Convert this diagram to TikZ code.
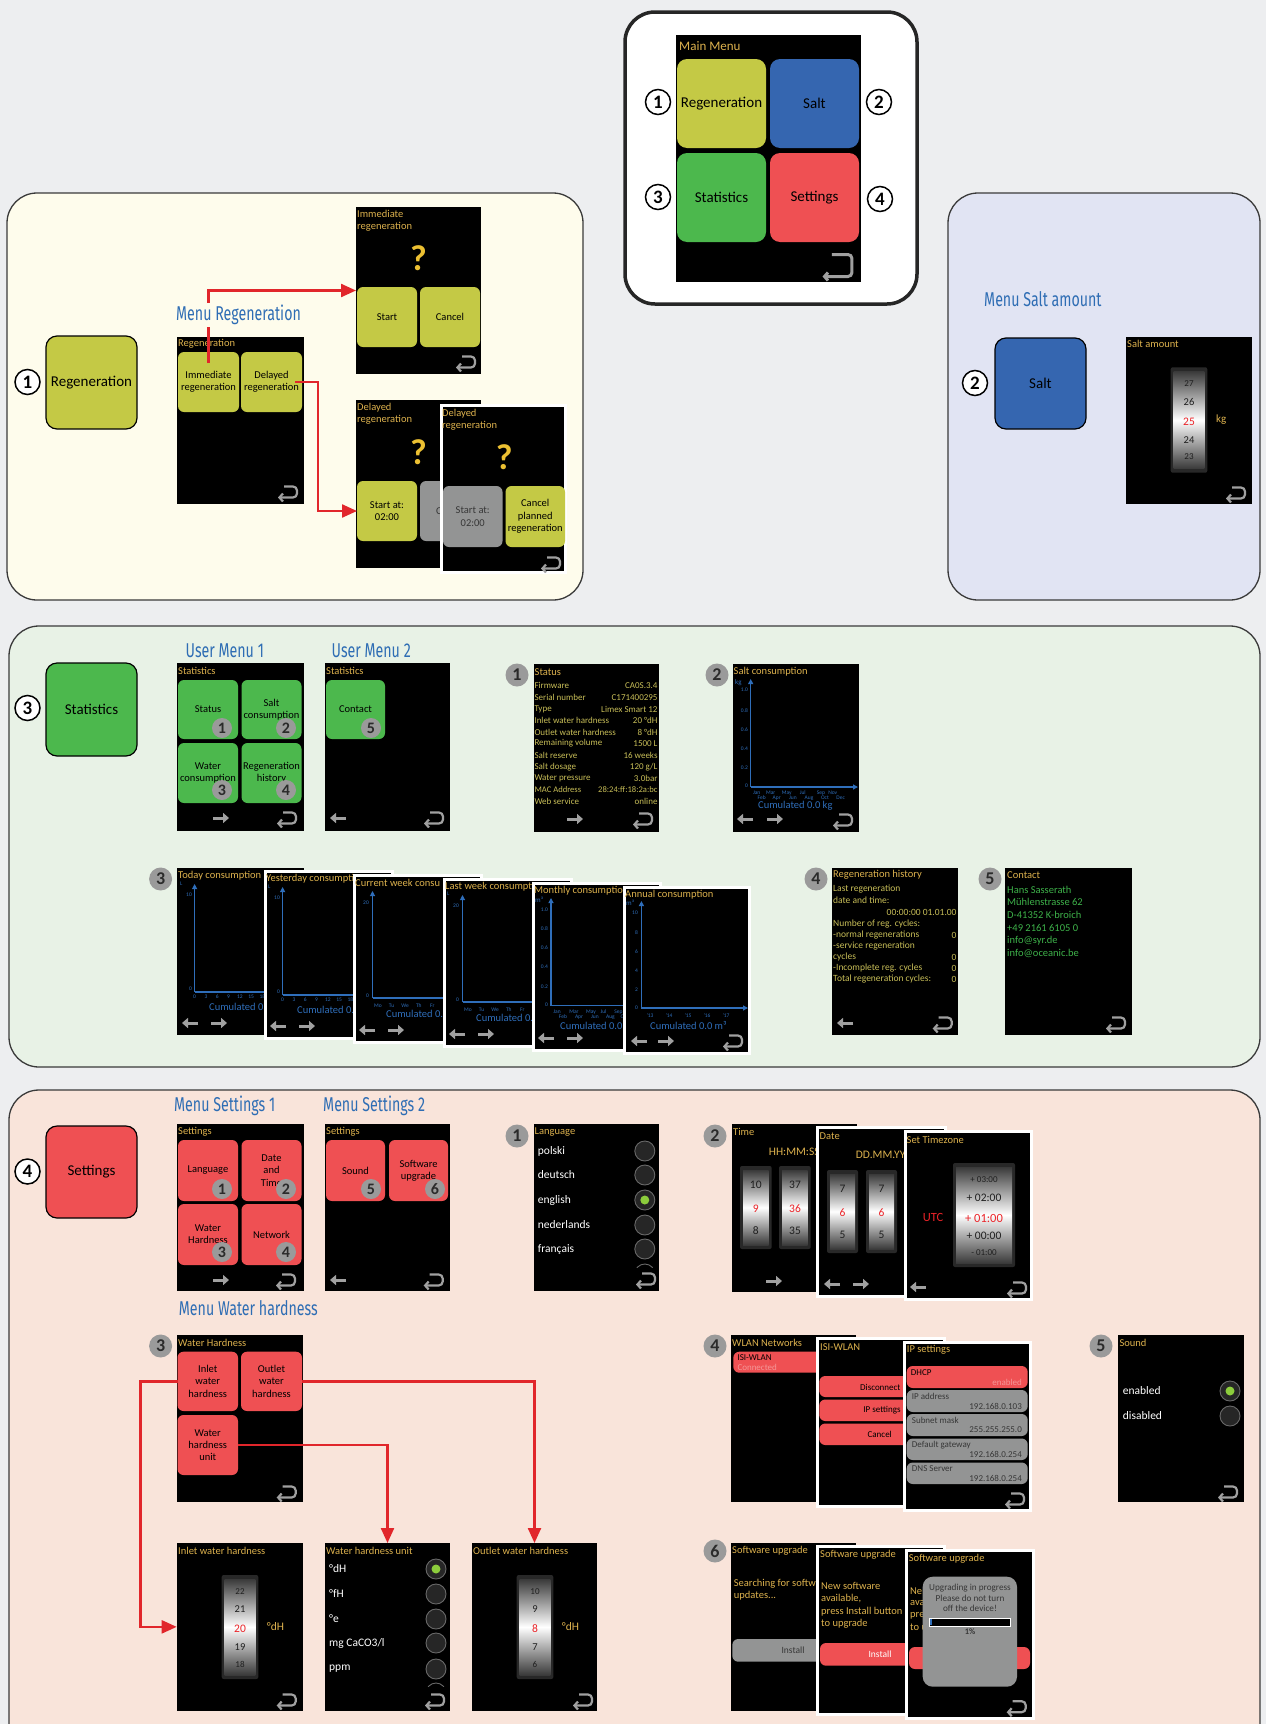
\documentclass[tikz,border=0pt]{standalone}
\usepackage{fontspec}
\setmainfont{Carlito}
\newfontfamily\mfont[FakeStretch=0.71]{Fira Sans}
\usetikzlibrary{arrows.meta,fit,calc}
\definecolor{bgc}{RGB}{237,238,240}
\definecolor{regp}{RGB}{254,252,236}
\definecolor{saltp}{RGB}{225,228,243}
\definecolor{statp}{RGB}{232,242,230}
\definecolor{setp}{RGB}{249,228,218}
\definecolor{regc}{RGB}{196,201,69}
\definecolor{saltc}{RGB}{53,102,176}
\definecolor{statc}{RGB}{76,184,77}
\definecolor{setc}{RGB}{239,80,83}
\definecolor{greyb}{RGB}{147,148,148}
\definecolor{ttlc}{RGB}{221,178,78}
\definecolor{txtc}{RGB}{200,190,88}
\definecolor{menub}{RGB}{46,109,180}
\definecolor{chartb}{RGB}{47,110,186}
\definecolor{contg}{RGB}{62,178,74}
\definecolor{arrred}{RGB}{225,38,43}
\definecolor{numg}{RGB}{154,154,154}
\definecolor{numt}{RGB}{43,43,43}
\definecolor{iconc}{RGB}{160,160,160}
\definecolor{panl}{RGB}{58,58,58}
\definecolor{rollfr}{RGB}{40,40,40}
\definecolor{rolld}{RGB}{58,58,58}
\definecolor{radf}{RGB}{38,38,38}
\definecolor{radb}{RGB}{105,105,105}
\definecolor{gdot}{RGB}{140,205,60}
\definecolor{qmc}{RGB}{236,192,50}
\definecolor{pinkt}{RGB}{245,150,150}
\definecolor{bart}{RGB}{55,55,55}
\definecolor{rnred}{RGB}{235,35,40}
\newcommand{\fsz}[2]{\fontsize{#1}{#2}\selectfont}
\newcommand{\Roll}[4]{%
  \fill[rollfr, rounded corners=2pt] (#1,#2) rectangle (#3,#4);
  \shade[top color=rolld, bottom color=rolld, middle color=white] ({#1+3},{#2+4}) rectangle ({#3-3},{#4-4});}
% button: style, name, fit corners, text
\newcommand{\Bt}[4]{%
  \node[#1, fit={#3}] (#2) {};
  \node[#1, fill=none, draw=none] (#2-t) at (#2.center) {#4};}
\begin{document}
\begin{tikzpicture}[x=1pt,y=-1pt,
 panel/.style={draw=panl, line width=1.3pt, rounded corners=30pt},
 scr/.style={fill=black, inner sep=0pt, outer sep=0pt},
 wscr/.style={fill=black, draw=white, line width=3pt, inner sep=0pt, outer sep=0pt},
 ttl/.style={anchor=west, inner sep=0pt, text=ttlc, font=\fsz{10.5}{12.2}, align=left},
 txt/.style={anchor=west, inner sep=0pt, text=txtc, font=\fsz{9}{11}},
 txtr/.style={txt, anchor=east},
 htxt/.style={anchor=west, inner sep=0pt, text=txtc, font=\fsz{9.5}{11}},
 htxtr/.style={htxt, anchor=east},
 ctxt/.style={anchor=west, inner sep=0pt, text=contg, font=\fsz{10.5}{12}},
 wtxt/.style={anchor=west, inner sep=0pt, text=white, font=\fsz{11.5}{13}},
 btn/.style={rounded corners=6pt, inner sep=0pt, outer sep=0pt, align=center, font=\fsz{10.5}{12.3}},
 bigbtn/.style={rounded corners=11pt, draw=black, line width=1.2pt, inner sep=0pt, outer sep=0pt, font=\fsz{15}{17}},
 mbtn/.style={rounded corners=10pt, inner sep=0pt, outer sep=0pt, font=\fsz{15}{17}},
 wnum/.style={circle, draw=black, line width=1.5pt, fill=white, inner sep=0pt, minimum size=25pt, font=\bfseries\fsz{19}{19}},
 gnum/.style={circle, fill=numg, text=numt, inner sep=0pt, minimum size=23pt, font=\bfseries\fsz{18}{18}},
 snum/.style={gnum, minimum size=20pt, font=\bfseries\fsz{16}{16}},
 menu/.style={anchor=west, inner sep=0pt, text=menub, font=\mfont\fsz{20}{22}},
 redarr/.style={draw=arrred, line width=2.3pt, -{Triangle[length=15pt,width=13pt]}},
 qm/.style={text=qmc, font=\bfseries\fsz{36}{36}, inner sep=0pt},
 ax/.style={draw=chartb, line width=1.1pt},
 axa/.style={ax, -{Triangle[length=5pt,width=5pt]}},
 axl/.style={text=chartb, font=\fsz{5.5}{6}, inner sep=0pt},
 axr/.style={axl, anchor=east},
 cum/.style={text=chartb, font=\fsz{10.5}{12}, anchor=west, inner sep=0pt},
 rn/.style={text=black!88, font=\fsz{10.5}{12}, inner sep=0pt},
 rns/.style={rn, font=\fsz{9}{10}},
 rnr/.style={text=rnred, font=\fsz{11.5}{12}, inner sep=0pt},
 unitl/.style={text=ttlc, font=\fsz{11.5}{13}, anchor=west, inner sep=0pt},
 radio/.style={circle, fill=radf, draw=radb, line width=0.9pt, minimum size=20pt, inner sep=0pt},
 radon/.style={radio, path picture={\fill[gdot] (path picture bounding box.center) circle (4.5pt);}},
 gbar/.style={fill=greyb, rounded corners=6pt},
 rbar/.style={fill=setc, rounded corners=6pt},
 bartl/.style={anchor=west, inner sep=0pt, text=bart, font=\fsz{9}{10}},
 bartr/.style={bartl, anchor=east},
 pics/backic/.style={code={\draw[draw=iconc, line width=#1, rounded corners=4pt, -{Straight Barb[length=3.5pt,width=8pt]}] (-4,-5.5) -- (9,-5.5) -- (9,5.5) -- (-10,5.5);}},
 pics/rarr/.style={code={\draw[draw=iconc, line width=3pt, -{Triangle[length=6pt,width=10pt]}] (-8,0) -- (8,0);}},
 pics/larr/.style={code={\draw[draw=iconc, line width=3pt, -{Triangle[length=6pt,width=10pt]}] (8,0) -- (-8,0);}}
]
\fill[bgc] (0,0) rectangle (1266,1724);
\useasboundingbox (0,0) rectangle (1266,1724);

%================ MAIN MENU ================
\draw[fill=white, draw=black!85, line width=3.5pt, rounded corners=30pt] (625,12) rectangle (917,304);
\node[scr, fit={(676,35)(861,282)}] (mainscr) {};
\node[ttl, font=\fsz{13}{14}] (mmt) at (679,46) {Main Menu};
\Bt{mbtn, fill=regc}{mreg}{(677,59)(766,148)}{Regeneration}
\Bt{mbtn, fill=saltc}{msalt}{(770,59)(859,148)}{Salt}
\Bt{mbtn, fill=statc}{mstat}{(677,153)(766,242)}{Statistics}
\Bt{mbtn, fill=setc}{mset}{(770,153)(859,242)}{Settings}
\pic[xscale=1.55,yscale=2] at (838,265.5) {backic=3pt};
\node[wnum] (mn1) at (658,102) {1};
\node[wnum] (mn2) at (879,102) {2};
\node[wnum] (mn3) at (658,197) {3};
\node[wnum] (mn4) at (880,199) {4};

%================ SECTION 1: REGENERATION ================
\draw[panel, fill=regp] (7,193) rectangle (583,600);
\node[wnum] (c1) at (27.5,382) {1};
\Bt{bigbtn, fill=regc}{breg}{(46,336)(137,429)}{Regeneration}
% regeneration menu screen
\node[scr, fit={(177,337)(304,504)}] (regscr) {};
\node[ttl] (regt) at (178,344) {Regeneration};
\Bt{btn, fill=regc}{immb}{(178,352)(239,412)}{Immediate\\regeneration}
\Bt{btn, fill=regc}{delb}{(241,352)(302,412)}{Delayed\\regeneration}
\pic at (288,492) {backic=2.2pt};
% immediate screen
\node[scr, fit={(356,207)(481,374)}] (immscr) {};
\node[ttl] (immt) at (357,221) {Immediate\\regeneration};
\node[qm] (q1) at (418.5,258) {?};
\Bt{btn, fill=regc}{startb}{(357,287)(417,347)}{Start}
\Bt{btn, fill=regc}{cancb}{(420,287)(480,347)}{Cancel}
\pic at (466,362) {backic=2.2pt};
% delayed screen 1
\node[scr, fit={(356,400)(481,568)}] (dscr1) {};
\node[ttl] (dt1) at (357,414) {Delayed\\regeneration};
\node[qm] (q2) at (418.5,452) {?};
\Bt{btn, fill=regc}{startat}{(357,481)(417,541)}{Start at:\\02:00}
\node[btn, fill=greyb, fit={(420,481)(480,541)}] (cancp1) {};
\begin{scope}
 \clip (418,470) rectangle (440,550);
 \node[btn, text=bart, anchor=west] (cancp1t) at (436,511) {C};
\end{scope}
% delayed screen 2
\node[wscr, fit={(441,405)(565.5,572.5)}] (dscr2) {};
\node[ttl] (dt2) at (442,420) {Delayed\\regeneration};
\node[qm] (q3) at (504.3,457) {?};
\Bt{btn, fill=greyb, text=bart}{startat2}{(443,486)(502.5,547)}{Start at:\\02:00}
\Bt{btn, fill=regc}{cancp2}{(505.5,486)(565,547)}{Cancel\\planned\\regeneration}
\pic at (551,563) {backic=2.2pt};
% arrows
\draw[redarr] ([yshift=19pt]immb.center) |- (immscr.west);
\draw[redarr] ([xshift=-7pt]delb.east) -- ++(23,0) |- (startat.west);
\node[menu, fill=regp, inner sep=2pt] (mreglbl) at (174,315) {Menu Regeneration};

%================ SECTION 2: SALT ================
\draw[panel, fill=saltp] (948,193) rectangle (1260,600);
\node[menu] (msaltlbl) at (984,299) {Menu Salt amount};
\node[wnum] (c2) at (975,383) {2};
\Bt{bigbtn, fill=saltc}{bsalt}{(995,338)(1086,429)}{Salt}
\node[scr, fit={(1126,337)(1252,504)}] (saltscr) {};
\node[ttl] (saltt) at (1127,344) {Salt amount};
\Roll{1170.7}{367.3}{1207.3}{472.7}
\node[rns] (s27) at (1189,384) {27};
\node[rn] (s26) at (1189,402) {26};
\node[rnr] (s25) at (1189,421.7) {25};
\node[rn] (s24) at (1189,440) {24};
\node[rns] (s23) at (1189,456.7) {23};
\node[unitl, font=\fsz{11}{12}] (kg) at (1216,420) {kg};
\pic at (1236,493) {backic=2.2pt};

%================ SECTION 3: STATISTICS ================
\draw[panel, fill=statp] (9,626) rectangle (1260,1067);
\node[wnum] (c3) at (27.5,708) {3};
\Bt{bigbtn, fill=statc}{bstat}{(46,663)(137,756)}{Statistics}
\node[menu] (um1) at (185.5,651) {User Menu 1};
\node[menu] (um2) at (331.5,651) {User Menu 2};
% stats screen 1
\node[scr, fit={(177,663)(304,830.5)}] (st1) {};
\node[ttl] (st1t) at (178,671) {Statistics};
\Bt{btn, fill=statc}{bstatus}{(178,680)(238,739)}{Status}
\Bt{btn, fill=statc}{bsaltc}{(241.5,680)(301.5,739)}{Salt\\consumption}
\Bt{btn, fill=statc}{bwat}{(178,743)(238,803)}{Water\\consumption}
\Bt{btn, fill=statc}{bregh}{(241.5,743)(301.5,803)}{Regeneration\\history}
\node[snum] (sn1) at (222,728) {1};
\node[snum] (sn2) at (286,728) {2};
\node[snum] (sn3) at (222,790) {3};
\node[snum] (sn4) at (286,790) {4};
\pic at (221,818) {rarr};
\pic at (287,818) {backic=2.2pt};
% stats screen 2
\node[scr, fit={(324.5,663)(450,830.5)}] (st2) {};
\node[ttl] (st2t) at (326,671) {Statistics};
\Bt{btn, fill=statc}{bcont}{(326,680)(385,739)}{Contact}
\node[snum] (sn5) at (371,728) {5};
\pic at (338,818) {larr};
\pic at (434,818) {backic=2.2pt};
% status
\node[gnum] (g31) at (517,675) {1};
\node[scr, fit={(533.5,664)(659,831.5)}] (status) {};
\node[ttl] at (534.5,672) {Status};
\node[txt] at (534.3,685.7) {Firmware};            \node[txtr] at (657.7,685.7) {CA0S.3.4};
\node[txt] at (534.3,697.7) {Serial number};       \node[txtr] at (657.7,697.7) {C171400295};
\node[txt] at (534.3,709.3) {Type};                \node[txtr] at (657.7,709.3) {Limex Smart 12};
\node[txt] at (534.3,720.7) {Inlet water hardness};\node[txtr] at (657.7,720.7) {20 °dH};
\node[txt] at (534.3,732) {Outlet water hardness}; \node[txtr] at (657.7,732) {8 °dH};
\node[txt] at (534.3,743.3) {Remaining volume};    \node[txtr] at (657.7,743.3) {1500 L};
\node[txt] at (534.3,755) {Salt reserve};          \node[txtr] at (657.7,755) {16 weeks};
\node[txt] at (534.3,766.7) {Salt dosage};         \node[txtr] at (657.7,766.7) {120 g/L};
\node[txt] at (534.3,778) {Water pressure};        \node[txtr] at (657.7,778) {3.0bar};
\node[txt, font=\fsz{8.6}{10}] at (534.3,789.3) {MAC Address};\node[txtr, font=\fsz{8.6}{10}] at (657.7,789.3) {28:24:ff:18:2a:bc};
\node[txt] at (534.3,801) {Web service};           \node[txtr] at (657.7,801) {online};
\pic at (575,819) {rarr};
\pic at (643,819) {backic=2.2pt};
% salt consumption
\node[gnum] (g32) at (717,675) {2};
\node[scr, fit={(732.5,664)(859,831.5)}] (saltcs) {};
\node[ttl] at (733.5,672) {Salt consumption};
\node[axl, anchor=west, font=\fsz{7}{8}] at (735,683) {kg};
\draw[axa] (750.7,787) -- (750.7,679);
\draw[axa] (750.7,787) -- (858,787);
\foreach \y/\t in {690/1.0,711/0.8,730/0.6,749/0.4,768/0.2,786/0} \node[axr] at (748,\y) {\t};
\foreach \x/\t in {756.7/Jan,770.7/Mar,786.7/May,802.7/Jul,821/Sep,832.7/Nov} \node[axl] at (\x,792.7) {\t};
\foreach \x/\t in {761.7/Feb,776.7/Apr,793/Jun,809/Aug,825/Oct,840.7/Dec} \node[axl] at (\x,797.7) {\t};
\node[cum] at (758,806) {Cumulated 0.0 kg};
\pic at (745,819) {larr};
\pic at (775,819) {rarr};
\pic at (843,820) {backic=2.2pt};
% consumption screens
\node[gnum] (g33) at (160.6,879) {3};
\begin{scope}[shift={(177,868)}]
 \node[scr, fit={(0,0)(127,167)}] (cs1) {};
 \node[ttl] at (1,7.5) {Today consumption};
 \node[axl, anchor=west] at (3,16) {L};
 \draw[axa] (17.6,124) -- (17.6,16);
 \draw[ax] (17.6,124) -- (127,124);
 \node[axr] at (15,27) {10};
 \node[axr] at (15,121) {0};
 \foreach \i/\t in {0/0,1/3,2/6,3/9,4/12,5/15,6/18,7/21} \node[axl] at ({17.6+\i*11.3},129) {\t};
 \node[cum] at (32,139) {Cumulated 0.0 L};
 \pic at (13,155) {larr}; \pic at (42,155) {rarr};
\end{scope}
\begin{scope}[shift={(265,871)}]
 \node[wscr, fit={(0,0)(127,167)}] (cs2) {};
 \node[ttl] at (1,7.5) {Yesterday consumption};
 \node[axl, anchor=west] at (3,16) {L};
 \draw[axa] (17.6,124) -- (17.6,16);
 \draw[ax] (17.6,124) -- (127,124);
 \node[axr] at (15,27) {10};
 \node[axr] at (15,121) {0};
 \foreach \i/\t in {0/0,1/3,2/6,3/9,4/12,5/15,6/18,7/21} \node[axl] at ({17.6+\i*11.3},129) {\t};
 \node[cum] at (32,139) {Cumulated 0.0 L};
 \pic at (13,155) {larr}; \pic at (42,155) {rarr};
\end{scope}
\begin{scope}[shift={(354,875)}]
 \node[wscr, fit={(0,0)(127,167)}] (cs3) {};
 \begin{scope}
  \clip (0,0) rectangle (89,20);
  \node[ttl] at (1,7.5) {Current week consu};
 \end{scope}
 \draw[axa] (18.5,123) -- (18.5,16);
 \draw[ax] (18.5,123) -- (127,123);
 \node[axr] at (15,28) {20};
 \node[axr] at (15,121) {0};
 \foreach \i/\t in {0/Mo,1/Tu,2/We,3/Th,4/Fr,5/Sa,6/Su} \node[axl] at ({24+\i*13.6},130.5) {\t};
 \node[cum] at (32,139) {Cumulated 0.0 L};
 \pic at (13,155) {larr}; \pic at (42,155) {rarr};
\end{scope}
\begin{scope}[shift={(444,879)}]
 \node[wscr, fit={(0,0)(127,167)}] (cs4) {};
 \node[ttl] at (1,7.5) {Last week consumption};
 \node[axl, anchor=west] at (3,15) {L};
 \draw[axa] (18.5,123) -- (18.5,16);
 \draw[ax] (18.5,123) -- (127,123);
 \node[axr] at (15,27) {20};
 \node[axr] at (15,121) {0};
 \foreach \i/\t in {0/Mo,1/Tu,2/We,3/Th,4/Fr,5/Sa,6/Su} \node[axl] at ({24+\i*13.6},130.5) {\t};
 \node[cum] at (32,139) {Cumulated 0.0 L};
 \pic at (13,155) {larr}; \pic at (42,155) {rarr};
\end{scope}
\begin{scope}[shift={(533,883)}]
 \node[wscr, fit={(0,0)(127,167)}] (cs5) {};
 \node[ttl] at (1,7.5) {Monthly consumption};
 \node[axl, anchor=west, font=\fsz{7}{8}] at (2,17) {m³};
 \draw[axa] (18,122.7) -- (18,15);
 \draw[ax] (18,122.7) -- (127,122.7);
 \foreach \y/\t in {27/1.0,46/0.8,65/0.6,84/0.4,104/0.2,122/0} \node[axr] at (15,\y) {\t};
 \foreach \x/\t in {24/Jan,41/Mar,58/May,70.5/Jul,85.5/Sep,100/Nov} \node[axl] at (\x,128.7) {\t};
 \foreach \x/\t in {30/Feb,46/Apr,62/Jun,77.5/Aug,91.5/Oct,106/Dec} \node[axl] at (\x,133.7) {\t};
 \node[cum] at (27,142) {Cumulated 0.0 m³};
 \pic at (13,155) {larr}; \pic at (42,155) {rarr};
\end{scope}
\begin{scope}[shift={(624,887)}]
 \node[wscr, fit={(0,0)(125,166)}] (cs6) {};
 \node[ttl] at (1,7.5) {Annual consumption};
 \node[axl, anchor=west, font=\fsz{7}{8}] at (2,16) {m³};
 \draw[axa] (17.4,121) -- (17.4,14);
 \draw[axa] (17.4,121) -- (124,121);
 \foreach \y/\t in {26/10,46/8,65/6,84/4,103/2,121/0} \node[axr] at (14,\y) {\t};
 \foreach \i/\t in {0/'13,1/'14,2/'15,3/'16,4/'17} \node[axl] at ({26+\i*19},129) {\t};
 \node[cum] at (26,138) {Cumulated 0.0 m³};
 \pic at (15,154) {larr}; \pic at (42,154) {rarr};
 \pic at (109,154) {backic=2.2pt};
\end{scope}
% regeneration history
\node[gnum] (g34) at (816,879) {4};
\node[scr, fit={(831.6,868)(958,1035)}] (rh) {};
\node[ttl] at (833,875) {Regeneration history};
\node[htxt] at (833,889.3) {Last regeneration};
\node[htxt] at (833,900.7) {date and time:};
\node[htxtr] at (956.7,912.3) {00:00:00 01.01.00};
\node[htxt] at (833,923.7) {Number of reg. cycles:};
\node[htxt] at (833,935) {-normal regenerations}; \node[htxtr] at (956.7,935) {0};
\node[htxt] at (833,946.3) {-service regeneration};
\node[htxt] at (833,957) {cycles}; \node[htxtr] at (956.7,957) {0};
\node[htxt] at (833,968.3) {-Incomplete reg. cycles}; \node[htxtr] at (956.7,968.3) {0};
\node[htxt] at (833,979.3) {Total regeneration cycles:}; \node[htxtr] at (956.7,979.3) {0};
\pic at (845,1023) {larr};
\pic at (942.7,1023) {backic=2.2pt};
% contact
\node[gnum] (g35) at (990,879) {5};
\node[scr, fit={(1005,868)(1132,1035)}] (ct) {};
\node[ttl] at (1007,875) {Contact};
\node[ctxt] at (1007,890) {Hans Sasserath};
\node[ctxt] at (1007,902.3) {Mühlenstrasse 62};
\node[ctxt] at (1007,915) {D-41352 K-broich};
\node[ctxt] at (1007,927.7) {+49 2161 6105 0};
\node[ctxt] at (1007,940.3) {info@syr.de};
\node[ctxt] at (1007,953) {info@oceanic.be};
\pic at (1116,1023) {backic=2.2pt};

%================ SECTION 4: SETTINGS ================
\draw[panel, fill=setp] (9,1090) rectangle (1260,1780);
\node[wnum] (c4) at (27.5,1171.5) {4};
\Bt{bigbtn, fill=setc}{bset}{(46,1126)(137,1218)}{Settings}
\node[menu] (ms1) at (174,1106) {Menu Settings 1};
\node[menu] (ms2) at (323,1106) {Menu Settings 2};
\node[menu] (mwh) at (178.7,1308) {Menu Water hardness};
% settings screen 1
\node[scr, fit={(177,1124)(304,1291)}] (se1) {};
\node[ttl] (se1t) at (178,1132) {Settings};
\Bt{btn, fill=setc}{blang}{(178,1140)(238,1201)}{Language}
\Bt{btn, fill=setc}{bdate}{(241.5,1140)(301.5,1201)}{Date\\and\\Time}
\Bt{btn, fill=setc}{bwh}{(178,1204)(238,1265)}{Water\\Hardness}
\Bt{btn, fill=setc}{bnet}{(241.5,1204)(301.5,1265)}{Network}
\node[snum] (sm1) at (222,1189) {1};
\node[snum] (sm2) at (286,1189) {2};
\node[snum] (sm3) at (222,1252) {3};
\node[snum] (sm4) at (286,1252) {4};
\pic at (221,1280) {rarr};
\pic at (286,1280) {backic=2.2pt};
% settings screen 2
\node[scr, fit={(324.5,1124)(450,1291)}] (se2) {};
\node[ttl] (se2t) at (326,1132) {Settings};
\Bt{btn, fill=setc}{bsound}{(326,1140)(385,1201)}{Sound}
\Bt{btn, fill=setc}{bsoft}{(389,1140)(448,1201)}{Software\\upgrade}
\node[snum] (sm5) at (371,1189) {5};
\node[snum] (sm6) at (435,1189) {6};
\pic at (338,1280) {larr};
\pic at (433.7,1280) {backic=2.2pt};
% language
\node[gnum] (g41) at (517,1136) {1};
\node[scr, fit={(533.5,1124)(659,1291)}] (lang) {};
\node[ttl] at (534.5,1132) {Language};
\node[wtxt] at (537.7,1151) {polski};      \node[radio] at (644.8,1151) {};
\node[wtxt] at (537.7,1175) {deutsch};     \node[radio] at (644.8,1175) {};
\node[wtxt] at (537.7,1200) {english};     \node[radon] at (644.8,1200) {};
\node[wtxt] at (537.7,1225) {nederlands};  \node[radio] at (644.8,1225) {};
\node[wtxt] at (537.7,1249) {français};    \node[radio] at (644.8,1249) {};
\begin{scope}\clip (630,1262) rectangle (660,1267); \draw[draw=radb, line width=0.9pt] (644.8,1274) circle (10pt); \end{scope}
\pic at (646,1279) {backic=2.2pt};
% time / date / timezone
\node[gnum] (g42) at (715,1136) {2};
\node[scr, fit={(731.7,1124)(856.7,1291.7)}] (time) {};
\node[ttl] at (733,1132) {Time};
\node[unitl] at (768.7,1152) {HH:MM:SS};
\Roll{740}{1166}{771.7}{1249}
\Roll{779}{1166}{810.7}{1249}
\node[rn, font=\fsz{11.5}{12}] at (755.8,1185) {10};
\node[rnr] at (755.8,1209) {9};
\node[rn, font=\fsz{11.5}{12}] at (755.8,1230.7) {8};
\node[rn, font=\fsz{11.5}{12}] at (795,1185) {37};
\node[rnr] at (795,1209) {36};
\node[rn, font=\fsz{11.5}{12}] at (795,1230.7) {35};
\pic at (774,1281) {rarr};
\node[wscr, fit={(817.7,1127)(945,1296)}] (date) {};
\node[ttl] at (819.5,1135.7) {Date};
\node[unitl] at (855.7,1155) {DD.MM.YYYY};
\Roll{827}{1170}{858}{1253}
\Roll{866}{1170}{897}{1253}
\node[rn, font=\fsz{11.5}{12}] at (842.5,1189) {7};
\node[rnr] at (842.5,1213) {6};
\node[rn, font=\fsz{11.5}{12}] at (842.5,1235) {5};
\node[rn, font=\fsz{11.5}{12}] at (881.5,1189) {7};
\node[rnr] at (881.5,1213) {6};
\node[rn, font=\fsz{11.5}{12}] at (881.5,1235) {5};
\pic at (832,1284) {larr};
\pic at (861,1284) {rarr};
\node[wscr, fit={(905,1131.7)(1031.7,1299)}] (tz) {};
\node[ttl] at (906.5,1140) {Set Timezone};
\node[text=rnred, font=\fsz{12.5}{14}, inner sep=0pt] (utc) at (933,1217) {UTC};
\Roll{953}{1163}{1015}{1267}
\node[rns] at (984,1180) {+ 03:00};
\node[rn, font=\fsz{11.5}{12}] at (984,1198) {+ 02:00};
\node[rnr, font=\fsz{12.5}{13}] at (984,1218) {+ 01:00};
\node[rn, font=\fsz{11.5}{12}] at (984,1236) {+ 00:00};
\node[rns] at (984,1253) {- 01:00};
\pic at (918,1287) {larr};
\pic at (1017,1288) {backic=2.2pt};
% water hardness
\node[gnum] (g43) at (160.6,1346) {3};
\node[scr, fit={(177,1335)(303,1502)}] (whs) {};
\node[ttl] at (178,1343) {Water Hardness};
\Bt{btn, fill=setc}{binlet}{(177.5,1351.7)(238,1411)}{Inlet\\water\\hardness}
\Bt{btn, fill=setc}{boutlet}{(241,1351.7)(302,1411)}{Outlet\\water\\hardness}
\Bt{btn, fill=setc}{bunit}{(177.5,1415)(238,1475)}{Water\\hardness\\unit}
\pic at (286.7,1492) {backic=2.2pt};
\node[scr, fit={(176.7,1543)(302.7,1710.7)}] (inscr) {};
\node[ttl] at (178,1551) {Inlet water hardness};
\Roll{221.7}{1575}{258.3}{1679}
\node[rns] at (240,1591.7) {22};
\node[rn] at (240,1609) {21};
\node[rnr] at (240,1629) {20};
\node[rn] at (240,1646.7) {19};
\node[rns] at (240,1664) {18};
\node[unitl] at (266.7,1627) {°dH};
\pic at (286.7,1700) {backic=2.2pt};
\node[scr, fit={(325,1543)(450,1710.7)}] (unitscr) {};
\node[ttl] at (326,1551) {Water hardness unit};
\node[wtxt] at (329,1569) {°dH};        \node[radon] at (436,1569) {};
\node[wtxt] at (329,1594) {°fH};        \node[radio] at (436,1594) {};
\node[wtxt] at (329,1619) {°e};         \node[radio] at (436,1619) {};
\node[wtxt] at (329,1643) {mg CaCO3/l}; \node[radio] at (436,1643) {};
\node[wtxt] at (329,1669) {ppm};        \node[radio] at (436,1669) {};
\begin{scope}\clip (420,1681) rectangle (452,1686); \draw[draw=radb, line width=0.9pt] (436,1693) circle (10pt); \end{scope}
\pic at (435,1700) {backic=2.2pt};
\node[scr, fit={(472,1543)(597,1710.7)}] (outscr) {};
\node[ttl] at (473,1551) {Outlet water hardness};
\Roll{516.7}{1575}{553.3}{1679}
\node[rns] at (535,1591.7) {10};
\node[rn] at (535,1609) {9};
\node[rnr] at (535,1629) {8};
\node[rn] at (535,1646.7) {7};
\node[rns] at (535,1664) {6};
\node[unitl] at (561.7,1627) {°dH};
\pic at (583,1700) {backic=2.2pt};
\draw[redarr] (binlet.west) -- ++(-37,0) |- (inscr.west);
\draw[redarr] (bunit.east) -| (unitscr.north);
\draw[redarr] (boutlet.east) -| (outscr.north);
% WLAN
\node[gnum] (g44) at (715,1346) {4};
\node[scr, fit={(731,1335)(856,1501.7)}] (wl1) {};
\node[ttl] at (732,1342.7) {WLAN Networks};
\fill[rbar] (733.3,1351.7) rectangle (870,1372.7);
\node[bartl, text=black] at (737.3,1357.7) {ISI-WLAN};
\node[bartl, text=pinkt] at (737.3,1367.3) {Connected};
\node[wscr, fit={(817,1338)(944,1506)}] (wl2) {};
\node[ttl] at (820,1346.7) {ISI-WLAN};
\fill[rbar] (819.3,1376) rectangle (950,1397);
\fill[rbar] (819.3,1399.5) rectangle (950,1421);
\fill[rbar] (819.3,1423.5) rectangle (950,1445);
\node[bartr, text=black] at (900.7,1387) {Disconnect};
\node[bartr, text=black] at (900.7,1410.5) {IP settings};
\node[bartr, text=black] at (892,1434.5) {Cancel};
\node[wscr, fit={(904,1342)(1030.7,1510)}] (ipset) {};
\node[ttl] at (906.7,1350) {IP settings};
\fill[rbar] (906.7,1366) rectangle (1027.7,1388);
\fill[gbar] (906.7,1390) rectangle (1027.7,1412);
\fill[gbar] (906.7,1414) rectangle (1027.7,1436);
\fill[gbar] (906.7,1438.5) rectangle (1027.7,1460);
\fill[gbar] (906.7,1462.5) rectangle (1027.7,1484);
\node[bartl, text=black] at (910.7,1372.7) {DHCP};
\node[bartr, text=pinkt] at (1022,1382) {enabled};
\node[bartl] at (911.7,1396.7) {IP address};      \node[bartr] at (1022,1406) {192.168.0.103};
\node[bartl] at (911.7,1420.7) {Subnet mask};     \node[bartr] at (1022,1430) {255.255.255.0};
\node[bartl] at (911.7,1445) {Default gateway};   \node[bartr] at (1022,1454.7) {192.168.0.254};
\node[bartl] at (911.7,1469) {DNS Server};        \node[bartr] at (1022,1478.7) {192.168.0.254};
\pic at (1015,1499) {backic=2.2pt};
% sound
\node[gnum] (g45) at (1101,1346) {5};
\node[scr, fit={(1117.7,1335)(1244,1501.7)}] (sound) {};
\node[ttl] at (1119.3,1342.7) {Sound};
\node[wtxt] at (1122.7,1391) {enabled};  \node[radon] at (1230,1391) {};
\node[wtxt] at (1122.7,1416) {disabled}; \node[radio] at (1230,1416) {};
\pic at (1228,1492) {backic=2.2pt};
% software upgrade
\node[gnum] (g46) at (715,1551) {6};
\node[scr, fit={(731,1542.7)(856,1710.7)}] (sw1) {};
\node[ttl] at (732,1550.7) {Software upgrade};
\node[ttl] at (733.7,1589.5) {Searching for software\\updates...};
\fill[gbar] (732.3,1639) rectangle (870,1661.7);
\node[bartl, anchor=center, font=\fsz{9.5}{10}] at (793,1650.3) {Install};
\node[wscr, fit={(817,1546)(944,1714)}] (sw2) {};
\node[ttl] at (820,1554.7) {Software upgrade};
\node[ttl] at (821,1605.3) {New software\\available,\\press Install button\\to upgrade};
\fill[rbar] (820,1643) rectangle (950,1665.7);
\node[text=white, font=\fsz{9.5}{10}, inner sep=0pt] at (880,1654.3) {Install};
\node[wscr, fit={(906.7,1550)(1033,1718)}] (sw3) {};
\node[ttl] at (908.7,1558.7) {Software upgrade};
\begin{scope}
 \clip (906,1575) rectangle (922.7,1640);
 \node[ttl] at (910,1591) {Ne};
 \node[ttl] at (910,1603.3) {ava};
 \node[ttl] at (910,1615.7) {pre};
 \node[ttl] at (910,1627.3) {to u};
\end{scope}
\fill[rbar] (909,1647) rectangle (1030,1669);
\fill[greyb, rounded corners=10pt] (922.7,1576.7) rectangle (1017,1686.7);
\node[text=bart, font=\fsz{9.2}{10.8}, align=center, inner sep=0pt] (upg) at (970,1598) {Upgrading in progress\\Please do not turn\\off the device!};
\draw[white, fill=black, line width=1pt] (929,1618) rectangle (1010.7,1626);
\fill[chartb] (930.2,1619.2) rectangle (931.8,1624.8);
\node[text=bart, font=\bfseries\fsz{8.5}{9}, inner sep=0pt] at (970,1632) {1\%};
\pic at (1016.7,1706.7) {backic=2.2pt};
\end{tikzpicture}
\end{document}
